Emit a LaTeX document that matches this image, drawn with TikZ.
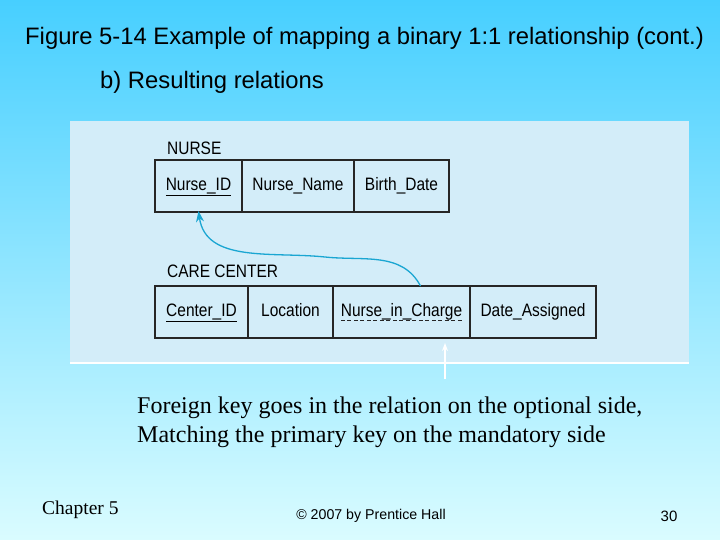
\documentclass[tikz,border=0pt]{standalone}
\usepackage{fontspec}
\setmainfont{Liberation Serif}
\setsansfont{Liberation Sans}
\usetikzlibrary{positioning,arrows.meta}
\definecolor{skytop}{HTML}{47CFFF}
\definecolor{skybot}{HTML}{DAFCFF}
\definecolor{panelblue}{HTML}{D3EDF9}
\definecolor{linkblue}{HTML}{1AA6D2}
\newfontfamily\tabfont[FakeStretch=0.86]{Liberation Sans}
\begin{document}
\begin{tikzpicture}[x=1pt,y=-1pt]
        \tikzset{
            cell/.style={draw=black!85, line width=1.2pt, minimum height=52pt, inner sep=0pt,
              outer sep=0pt, text height=13pt, text depth=4pt,
              font=\tabfont\fontsize{18}{18}\selectfont},
            relname/.style={anchor=west, inner sep=0pt, font=\tabfont\fontsize{18}{18}\selectfont},
            link/.style={draw=linkblue, line width=1.3pt, -{Stealth[length=11pt,width=8pt]}}
          }
        % slide background
        \shade[top color=skytop, bottom color=skybot] (0,0) rectangle (720,540);
        \useasboundingbox (0,0) rectangle (720,540);
        \fill[panelblue] (70,121) rectangle (689,363);
        \draw[white, line width=2pt] (70,363) -- (689,363);

        \node[anchor=west, inner sep=0pt, font=\sffamily\fontsize{23.8}{24}\selectfont] (title) at (25,38)
          {Figure 5-14 Example of mapping a binary 1:1 relationship (cont.)};
        \node[anchor=west, inner sep=0pt, font=\sffamily\fontsize{23.8}{24}\selectfont] (sub) at (100,82)
          {b) Resulting relations};

        % NURSE
        \node[relname] (nurse) at (167,148) {NURSE};
        \node[cell, anchor=north west, minimum width=87pt] (nid) at (155,160) {\underline{Nurse\_ID}};
        \node[cell, right=0pt of nid, minimum width=112pt] (nname) {Nurse\_Name};
        \node[cell, right=0pt of nname, minimum width=95pt] (bdate) {Birth\_Date};

        % CARE CENTER
        \node[relname] (care) at (167,271) {CARE CENTER};
        \node[cell, anchor=north west, minimum width=93pt] (cid) at (155,286) {\underline{Center\_ID}};
        \node[cell, right=0pt of cid, minimum width=85pt] (loc) {Location};
        \node[cell, right=0pt of loc, minimum width=137pt] (nic) {};
        \node[cell, right=0pt of nic, minimum width=126pt] (dass) {Date\_Assigned};
        \node[cell, draw=none] (nictext) at (nic.center) {Nurse\_in\_Charge};
        \draw[black!85, line width=0.6pt, dash pattern=on 4pt off 2.5pt]
          ([yshift=-4pt]nictext.base west) -- ([yshift=-4pt]nictext.base east);

        % foreign key link
        \coordinate (fk) at ([xshift=19pt]nic.north);
        \coordinate (bend) at (325,257);
        \draw[link] (fk) to[out=118, in=-6] (bend) to[out=174, in=-82] ([yshift=1pt]nid.south);

        % small white pointer
        \coordinate (ptail) at (445,379);
        \coordinate (phead) at (445,343);
        \draw[white, line width=1.5pt, -{Stealth[length=8pt,width=6pt]}] (ptail) -- (phead);

        \node[anchor=west, align=left, inner sep=0pt, font=\fontsize{24}{29}\selectfont] (note) at (137,422)
          {Foreign key goes in the relation on the optional side,\\Matching the primary key on the mandatory side};

        % footer
        \node[anchor=west, inner sep=0pt, font=\fontsize{19.5}{20}\selectfont] (chap) at (42,510) {Chapter 5};
        \node[font=\sffamily\fontsize{14.2}{15}\selectfont] (copy) at (371,516) {\textcopyright{} 2007 by Prentice Hall};
        \node[font=\sffamily\fontsize{15}{15}\selectfont] (page) at (669,516) {30};
    \end{tikzpicture}
\end{document}
